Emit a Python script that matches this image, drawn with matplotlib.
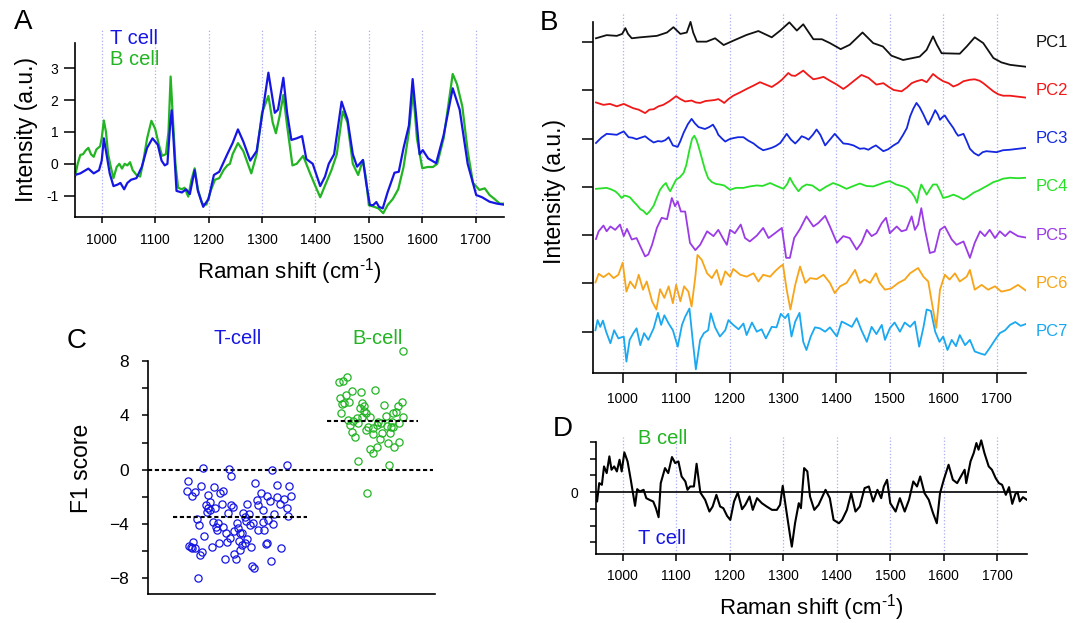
import matplotlib
matplotlib.use('Agg')
import matplotlib.pyplot as plt
from matplotlib.transforms import blended_transform_factory

plt.rcParams['font.family'] = ['Liberation Sans', 'DejaVu Sans']
plt.rcParams['mathtext.fontset'] = 'custom'
plt.rcParams['mathtext.rm'] = 'Liberation Sans'
plt.rcParams['mathtext.it'] = 'Liberation Sans:italic'
plt.rcParams['mathtext.bf'] = 'Liberation Sans:bold'

# ---------------- data ----------------
grid_x = [1000, 1100, 1200, 1300, 1400, 1500, 1600, 1700]

# Panel A: mean spectra
a_tcell = [(950,-0.35),(960,-0.3),(968,-0.22),(975,-0.15),(985,-0.3),(995,-0.2),(1000,0.1),(1004,0.8),(1010,0.2),
           (1015,-0.3),(1022,-0.7),(1030,-0.65),(1035,-0.6),(1042,-0.8),(1048,-0.6),(1055,-0.5),(1065,-0.45),
           (1075,-0.1),(1085,0.5),(1095,0.8),(1105,0.6),(1112,0.1),(1118,-0.05),(1123,0.0),(1128,1.2),(1131,1.68),
           (1135,0.6),(1140,-0.85),(1150,-0.9),(1158,-0.8),(1165,-0.95),(1174,-0.2),(1180,-0.85),(1190,-1.35),
           (1200,-1.1),(1210,-0.35),(1220,-0.25),(1235,0.3),(1245,0.65),(1255,1.08),(1265,0.7),(1278,0.1),
           (1290,0.4),(1300,1.5),(1312,2.86),(1324,1.6),(1330,1.7),(1340,2.7),(1347,1.6),(1355,0.75),(1365,0.8),
           (1375,0.87),(1383,0.15),(1395,0.0),(1409,-0.7),(1418,-0.4),(1425,0.0),(1435,0.3),(1449,1.95),(1460,1.4),
           (1470,0.3),(1478,-0.09),(1489,0.12),(1495,-0.6),(1502,-1.29),(1508,-1.3),(1514,-1.2),(1519,-1.35),
           (1526,-1.4),(1535,-0.9),(1548,-0.28),(1556,-0.25),(1565,0.5),(1575,1.2),(1582,2.66),(1588,1.6),
           (1595,0.3),(1601,0.43),(1611,0.17),(1626,0.02),(1640,0.9),(1657,2.37),(1670,1.7),(1685,0.0),
           (1701,-0.98),(1712,-1.05),(1726,-1.19),(1740,-1.25),(1752,-1.28)]
a_bcell = [(950,-0.4),(955,0.0),(960,0.28),(965,0.3),(970,0.42),(975,0.5),(980,0.3),(985,0.22),(990,0.45),
           (997,0.55),(1000,0.8),(1004,1.36),(1008,1.0),(1012,0.3),(1017,-0.1),(1022,-0.45),(1028,-0.1),
           (1033,0.0),(1038,-0.15),(1043,0.0),(1048,-0.05),(1053,0.05),(1058,-0.2),(1065,-0.35),(1072,-0.4),
           (1078,0.1),(1085,0.8),(1093,1.35),(1100,1.1),(1107,0.6),(1113,0.25),(1120,0.3),(1125,1.0),(1129,2.74),
           (1133,1.5),(1138,0.0),(1143,-0.75),(1150,-0.8),(1155,-0.75),(1162,-1.03),(1168,-0.5),(1174,-0.14),
           (1180,-0.8),(1188,-1.25),(1196,-1.28),(1205,-0.8),(1212,-0.5),(1220,-0.45),(1228,-0.2),(1235,-0.05),
           (1240,0.0),(1245,0.3),(1255,0.65),(1265,0.4),(1280,-0.3),(1290,0.3),(1300,1.6),(1312,2.13),(1320,1.3),
           (1326,0.96),(1333,1.5),(1340,2.16),(1347,1.2),(1357,-0.05),(1365,0.0),(1377,0.25),(1390,-0.3),
           (1400,-0.7),(1409,-1.05),(1420,-0.6),(1430,-0.2),(1440,0.3),(1451,1.64),(1460,1.3),(1470,0.0),
           (1480,-0.35),(1489,0.12),(1495,-0.5),(1500,-1.3),(1510,-1.35),(1518,-1.4),(1527,-1.55),(1535,-1.3),
           (1545,-1.1),(1555,-0.8),(1565,-0.1),(1575,1.0),(1583,2.27),(1590,0.8),(1600,-0.14),(1610,-0.1),
           (1620,-0.1),(1628,0.0),(1640,0.8),(1657,2.82),(1665,2.5),(1675,1.8),(1685,0.4),(1695,-0.6),
           (1707,-0.82),(1717,-0.77),(1726,-0.98),(1735,-1.1),(1745,-1.25),(1752,-1.25)]

# Panel B: principal component loadings (relative to each trace's own baseline)
pc1 = [(950,0.08),(970,0.145),(989,0.13),(999,0.17),(1005,0.29),(1010,0.17),(1017,0.08),(1033,0.10),(1064,0.13),
       (1083,0.20),(1095,0.31),(1108,0.17),(1120,0.20),(1127,0.42),(1132,0.2),(1139,0.01),(1157,0.01),(1173,0.08),
       (1189,-0.06),(1207,0.03),(1232,0.15),(1254,0.23),(1279,0.10),(1295,0.24),(1312,0.41),(1326,0.24),
       (1338,0.37),(1357,0.06),(1373,0.06),(1388,-0.02),(1408,-0.145),(1425,-0.055),(1449,0.20),(1469,-0.02),
       (1487,-0.09),(1503,-0.28),(1525,-0.37),(1556,-0.30),(1569,-0.16),(1575,-0.02),(1581,0.12),(1588,-0.05),
       (1597,-0.23),(1631,-0.24),(1644,-0.09),(1659,0.10),(1675,-0.02),(1694,-0.33),(1709,-0.42),(1725,-0.47),
       (1755,-0.51)]
pc2 = [(950,-0.25),(964,-0.30),(976,-0.28),(989,-0.33),(1002,-0.28),(1010,-0.32),(1020,-0.37),(1030,-0.40),
       (1042,-0.47),(1050,-0.40),(1058,-0.39),(1067,-0.33),(1076,-0.30),(1088,-0.22),(1100,-0.12),(1108,-0.18),
       (1117,-0.23),(1129,-0.21),(1137,-0.25),(1145,-0.26),(1155,-0.22),(1164,-0.21),(1172,-0.20),(1179,-0.18),
       (1185,-0.22),(1190,-0.26),(1198,-0.18),(1207,-0.11),(1220,-0.04),(1232,0.03),(1245,0.10),(1257,0.17),
       (1268,0.12),(1279,0.07),(1290,0.15),(1298,0.22),(1310,0.36),(1316,0.31),(1323,0.30),(1330,0.35),
       (1338,0.41),(1347,0.32),(1357,0.23),(1366,0.25),(1376,0.28),(1388,0.20),(1401,0.12),(1413,0.03),
       (1422,0.10),(1432,0.19),(1440,0.26),(1447,0.32),(1460,0.26),(1475,0.12),(1488,0.15),(1497,0.08),
       (1507,0.01),(1522,-0.02),(1532,0.06),(1541,0.15),(1550,0.19),(1560,0.22),(1569,0.17),(1581,0.34),
       (1590,0.26),(1600,0.19),(1610,0.15),(1619,0.08),(1628,0.12),(1638,0.19),(1650,0.22),(1659,0.23),
       (1668,0.20),(1675,0.15),(1685,0.06),(1694,-0.02),(1703,-0.08),(1712,-0.11),(1725,-0.11),(1740,-0.13),
       (1755,-0.15)]
pc3 = [(950,-0.09),(960,0.02),(970,0.10),(980,0.09),(989,0.08),(996,0.12),(1002,0.15),(1011,0.03),(1018,0.02),
       (1026,-0.01),(1034,0.02),(1042,0.05),(1050,-0.02),(1058,-0.08),(1066,-0.05),(1073,-0.06),(1080,-0.03),
       (1086,0.03),(1094,-0.14),(1103,-0.17),(1108,-0.05),(1114,0.12),(1122,0.30),(1129,0.41),(1135,0.32),
       (1142,0.24),(1148,0.22),(1154,0.20),(1162,0.24),(1169,0.29),(1175,0.18),(1179,0.08),(1186,0.0),
       (1192,-0.06),(1200,-0.01),(1207,0.01),(1216,0.03),(1226,0.03),(1235,-0.04),(1245,-0.10),(1254,-0.18),
       (1263,-0.24),(1270,-0.22),(1279,-0.19),(1287,-0.15),(1295,-0.09),(1302,0.02),(1307,0.10),(1315,-0.02),
       (1323,-0.10),(1330,-0.02),(1335,0.05),(1342,0.02),(1348,-0.02),(1356,0.08),(1363,0.19),(1370,0.08),
       (1379,-0.14),(1388,-0.02),(1397,0.10),(1405,0.0),(1413,-0.10),(1422,-0.11),(1432,-0.14),(1444,-0.21),
       (1452,-0.20),(1460,-0.23),(1467,-0.18),(1474,-0.14),(1481,-0.20),(1488,-0.26),(1497,-0.22),(1507,-0.14),
       (1516,-0.08),(1525,0.08),(1532,0.22),(1538,0.46),(1544,0.62),(1550,0.74),(1556,0.65),(1563,0.50),
       (1568,0.38),(1572,0.29),(1578,0.42),(1585,0.59),(1590,0.50),(1594,0.39),(1599,0.45),(1603,0.48),
       (1610,0.36),(1619,0.22),(1624,0.12),(1628,0.06),(1633,0.08),(1638,0.10),(1644,-0.05),(1650,-0.21),
       (1658,-0.30),(1666,-0.35),(1674,-0.28),(1681,-0.26),(1690,-0.27),(1700,-0.28),(1712,-0.24),(1725,-0.23),
       (1740,-0.21),(1755,-0.19)]
pc4 = [(950,-0.04),(960,-0.03),(970,-0.02),(978,-0.05),(986,-0.09),(992,-0.15),(998,-0.23),(1003,-0.18),
       (1008,-0.19),(1014,-0.22),(1020,-0.30),(1027,-0.38),(1033,-0.46),(1039,-0.50),(1045,-0.57),(1051,-0.50),
       (1058,-0.39),(1064,-0.22),(1070,-0.06),(1076,0.03),(1081,0.08),(1085,-0.02),(1089,-0.09),(1094,0.02),
       (1100,0.15),(1107,0.20),(1114,0.29),(1119,0.45),(1125,0.77),(1130,1.00),(1134,1.06),(1138,0.98),
       (1142,0.84),(1148,0.60),(1154,0.36),(1160,0.18),(1167,0.10),(1175,0.06),(1182,0.05),(1190,0.03),
       (1201,-0.06),(1212,-0.02),(1226,-0.02),(1238,0.01),(1251,0.03),(1262,0.02),(1276,0.08),(1288,0.02),
       (1301,-0.04),(1308,0.06),(1313,0.19),(1320,0.05),(1329,-0.09),(1336,0.0),(1344,0.05),(1355,0.03),
       (1369,-0.08),(1380,0.0),(1394,0.08),(1406,0.03),(1419,-0.04),(1432,0.02),(1444,0.07),(1456,0.02),
       (1469,0.01),(1482,0.06),(1492,0.10),(1500,0.12),(1512,0.05),(1525,0.01),(1533,-0.03),(1541,-0.12),
       (1547,-0.22),(1551,-0.33),(1555,-0.10),(1559,0.05),(1564,-0.05),(1569,-0.16),(1575,-0.05),(1581,0.05),
       (1588,0.05),(1594,-0.08),(1600,-0.23),(1610,-0.20),(1619,-0.16),(1628,-0.20),(1638,-0.26),(1647,-0.20),
       (1657,-0.12),(1667,-0.07),(1675,-0.02),(1685,0.04),(1694,0.10),(1703,0.13),(1712,0.17),(1725,0.19),
       (1740,0.18),(1755,0.19)]
pc5 = [(950,-0.08),(955,0.08),(964,0.20),(970,0.08),(977,0.18),(986,0.11),(995,0.22),(1002,-0.02),(1008,0.13),
       (1017,-0.09),(1026,-0.06),(1036,-0.30),(1042,-0.44),(1048,-0.40),(1055,-0.20),(1064,0.15),(1073,0.36),
       (1083,0.33),(1092,0.77),(1098,0.60),(1103,0.70),(1109,0.49),(1117,0.49),(1126,-0.16),(1136,-0.31),
       (1145,-0.20),(1158,0.08),(1170,-0.02),(1179,0.11),(1189,-0.09),(1195,-0.20),(1201,0.11),(1210,0.04),
       (1221,0.22),(1229,-0.06),(1238,-0.13),(1251,-0.01),(1263,0.15),(1273,-0.06),(1285,0.04),(1298,0.15),
       (1306,-0.47),(1313,-0.47),(1321,-0.06),(1332,0.13),(1344,0.39),(1357,0.18),(1366,0.25),(1379,0.40),
       (1388,0.18),(1401,-0.16),(1413,-0.02),(1425,-0.06),(1438,-0.30),(1447,-0.16),(1457,0.11),(1466,-0.02),
       (1475,0.04),(1485,0.25),(1493,0.36),(1500,0.04),(1513,0.18),(1522,0.08),(1531,0.11),(1541,0.39),
       (1547,0.11),(1553,0.22),(1559,0.56),(1566,0.11),(1575,-0.37),(1584,-0.34),(1594,0.11),(1603,0.18),
       (1616,-0.09),(1625,-0.20),(1638,-0.13),(1650,-0.47),(1659,-0.16),(1669,0.08),(1678,-0.02),(1687,0.11),
       (1697,-0.06),(1706,0.08),(1716,-0.02),(1725,0.08),(1740,-0.02),(1755,-0.05)]
pc6 = [(949,0.02),(955,0.20),(964,0.13),(974,0.21),(983,0.11),(992,0.18),(1000,0.43),(1007,-0.17),(1014,0.04),
       (1023,-0.10),(1030,0.18),(1038,-0.13),(1045,0.04),(1055,-0.37),(1063,-0.54),(1070,-0.12),(1078,-0.30),
       (1086,-0.06),(1094,-0.41),(1100,-0.03),(1108,-0.37),(1115,-0.06),(1123,-0.17),(1129,-0.48),(1136,0.14),
       (1140,0.59),(1148,0.49),(1158,0.21),(1167,0.11),(1176,0.28),(1184,-0.03),(1192,0.25),(1201,0.14),
       (1207,0.30),(1220,0.18),(1232,0.14),(1245,0.21),(1254,0.04),(1263,0.18),(1276,0.14),(1285,0.25),
       (1295,0.35),(1300,0.39),(1307,-0.13),(1314,-0.54),(1323,-0.03),(1332,0.35),(1342,0.01),(1351,0.11),
       (1363,0.09),(1376,0.18),(1388,0.01),(1397,-0.20),(1407,-0.06),(1419,0.01),(1435,0.28),(1444,0.01),
       (1453,0.08),(1463,0.01),(1474,0.21),(1481,0.01),(1491,-0.13),(1503,-0.10),(1516,0.01),(1528,0.08),
       (1538,0.21),(1553,0.32),(1563,0.14),(1572,0.04),(1581,-0.54),(1587,-0.92),(1594,-0.13),(1603,0.18),
       (1612,0.08),(1622,0.21),(1631,0.04),(1644,0.14),(1650,0.28),(1659,-0.13),(1672,-0.03),(1684,-0.13),
       (1697,-0.06),(1709,-0.17),(1725,-0.13),(1740,-0.03),(1755,-0.15)]
pc7 = [(949,0.03),(953,0.24),(958,0.10),(963,0.23),(969,0.00),(977,-0.24),(984,0.03),(992,-0.14),(1002,-0.10),
       (1007,-0.62),(1013,-0.17),(1020,-0.03),(1026,0.07),(1033,-0.28),(1040,-0.03),(1048,-0.17),(1058,0.07),
       (1066,0.39),(1072,0.14),(1078,0.34),(1086,0.17),(1094,0.03),(1103,-0.31),(1111,0.14),(1117,0.31),
       (1125,0.48),(1131,-0.17),(1137,-0.78),(1145,-0.17),(1152,-0.03),(1160,0.03),(1165,0.38),(1173,0.09),
       (1182,-0.10),(1192,0.03),(1198,0.24),(1207,0.14),(1217,0.05),(1226,0.17),(1232,-0.07),(1242,0.19),
       (1251,0.00),(1260,0.05),(1268,-0.14),(1279,0.10),(1288,0.09),(1296,0.37),(1304,0.28),(1310,0.37),
       (1316,-0.10),(1323,0.21),(1331,0.39),(1338,-0.21),(1344,-0.38),(1352,-0.10),(1360,0.09),(1369,0.07),
       (1379,0.00),(1388,0.09),(1401,-0.10),(1410,0.21),(1419,0.16),(1429,0.10),(1438,0.28),(1447,0.03),
       (1457,-0.21),(1466,0.10),(1475,-0.05),(1485,0.14),(1491,-0.17),(1500,0.07),(1509,0.19),(1519,0.00),
       (1528,0.19),(1538,0.10),(1547,0.21),(1555,-0.31),(1563,0.09),(1569,0.46),(1577,0.43),(1585,0.00),
       (1593,-0.21),(1600,-0.10),(1608,-0.38),(1616,-0.17),(1624,-0.30),(1631,-0.07),(1641,-0.28),(1650,-0.17),
       (1659,-0.41),(1669,-0.45),(1678,-0.48),(1687,-0.34),(1697,-0.17),(1706,-0.03),(1716,0.03),(1725,0.14),
       (1735,0.20),(1745,0.12),(1755,0.16)]
pc_traces = [pc1, pc2, pc3, pc4, pc5, pc6, pc7]
pc_names = ['PC1', 'PC2', 'PC3', 'PC4', 'PC5', 'PC6', 'PC7']
pc_colors = ['#111111', '#f01818', '#1428e0', '#28e028', '#9b3be6', '#f7a418', '#1aa8f0']

# Panel C: F1 scores (jittered column position, score)
t_pos = [1.94,2.84,2.88,4.31,4.83,1.39,1.36,1.55,1.66,1.87,2.31,2.09,2.53,2.61,3.74,4.48,4.90,4.97,3.93,4.14,
         3.79,3.85,4.25,4.48,4.60,4.74,4.83,4.88,4.40,4.02,3.46,3.53,3.30,3.38,2.95,2.88,2.80,2.57,2.34,2.17,
         2.11,2.03,2.05,2.17,1.70,1.78,2.28,2.46,2.38,2.63,2.40,1.97,2.72,3.00,3.09,3.15,3.29,3.56,3.42,3.67,
         3.85,4.02,4.04,4.19,4.37,1.45,1.50,1.59,1.64,1.54,1.82,1.89,1.74,2.24,2.49,2.77,2.69,3.00,3.07,3.16,
         3.27,3.22,3.38,3.46,3.59,3.63,3.68,4.10,4.16,4.28,4.62,3.20,2.85]
t_f1 = [0.10,0.05,-0.49,-0.03,0.32,-0.83,-1.55,-1.96,-1.62,-1.18,-1.30,-1.85,-1.74,-1.55,-0.96,-1.15,-1.18,-1.93,
        -1.74,-1.93,-2.23,-2.60,-2.31,-1.99,-2.55,-2.16,-2.80,-3.43,-3.26,-3.00,-2.52,-3.24,-3.21,-3.46,-2.75,-2.60,
        -3.21,-2.50,-2.85,-2.35,-2.80,-2.60,-3.09,-3.00,-3.63,-4.07,-3.87,-3.95,-4.19,-4.19,-4.44,-4.86,-4.66,-4.49,
        -3.95,-4.32,-4.64,-4.07,-3.75,-3.95,-4.44,-3.83,-4.44,-3.70,-4.02,-5.60,-5.72,-5.35,-5.75,-5.75,-6.28,-6.09,
        -7.95,-5.70,-5.38,-5.35,-6.58,-6.23,-6.60,-5.25,-5.55,-5.92,-5.43,-5.11,-5.67,-7.09,-7.21,-5.48,-5.40,-6.70,
        -5.75,-4.64,-5.05]
b_pos = [8.88,6.65,6.80,6.91,7.11,7.41,7.91,6.69,6.88,6.76,6.83,6.99,6.72,7.44,7.52,7.38,7.53,7.57,8.21,8.71,
         8.83,8.63,8.54,8.28,6.97,7.15,7.26,7.46,7.72,8.01,8.10,8.48,8.74,7.03,7.32,7.67,7.82,7.96,8.30,8.45,
         8.54,7.09,7.20,7.59,7.82,8.13,8.42,8.07,8.34,8.57,8.74,7.72,7.84,7.98,7.30,8.39,7.63,8.86]
b_f1 = [8.74,6.43,6.53,6.80,5.82,5.70,5.87,5.26,5.50,4.81,4.89,4.96,4.20,4.94,4.72,4.52,4.35,4.15,4.77,4.70,
        5.01,4.28,4.15,3.96,3.66,3.58,3.78,3.90,3.90,3.54,3.41,3.54,3.46,3.29,3.41,3.17,3.04,3.29,3.22,3.12,
        3.12,2.80,2.38,2.92,2.63,2.73,2.73,2.26,1.99,1.65,2.07,1.50,1.20,1.65,0.66,0.34,-1.74,3.90]
t_mean = -3.48
b_mean = 3.61

# Panel D: discriminant loading
d_trace = [(950,-0.16),(952,-0.56),(956,0.54),(961,0.44),(965,1.54),(970,1.14),(975,2.14),(979,1.34),(984,1.54),
           (989,1.24),(994,1.94),(998,1.24),(1003,2.38),(1009,1.84),(1015,0.74),(1023,-0.82),(1027,0.18),
           (1032,0.04),(1039,0.14),(1044,-0.36),(1050,-0.46),(1057,-0.56),(1062,-0.96),(1067,-1.50),(1071,0.54),
           (1079,1.44),(1085,1.14),(1092,2.10),(1098,1.74),(1104,1.84),(1110,0.94),(1117,0.64),(1121,0.14),
           (1126,0.34),(1133,0.34),(1138,1.70),(1145,-0.02),(1154,-0.46),(1162,-1.16),(1168,-0.86),(1175,-0.16),
           (1182,-0.86),(1188,-0.96),(1195,-1.42),(1201,-1.66),(1208,-0.56),(1215,-0.02),(1223,-1.02),(1229,-0.76),
           (1237,-0.26),(1243,-1.06),(1251,-0.36),(1260,-0.66),(1269,-0.86),(1279,-1.06),(1288,-1.06),(1294,-0.76),
           (1299,0.38),(1306,-1.16),(1313,-2.66),(1316,-3.26),(1322,-1.86),(1329,-0.66),(1333,-0.96),(1339,1.44),
           (1345,1.24),(1350,-0.26),(1358,-1.06),(1366,-0.76),(1379,0.14),(1387,-0.36),(1394,-1.66),(1404,-1.86),
           (1410,-1.66),(1419,-1.06),(1427,-0.06),(1435,-1.16),(1443,-0.86),(1452,0.24),(1460,0.34),(1468,-0.56),
           (1476,0.14),(1483,-0.36),(1488,0.34),(1494,0.74),(1500,-0.66),(1510,-1.16),(1518,-0.36),(1527,-1.16),
           (1535,-0.46),(1543,0.64),(1550,0.34),(1556,0.94),(1564,-0.06),(1572,-0.46),(1580,-1.26),(1587,-1.86),
           (1593,-0.06),(1600,0.74),(1609,1.64),(1617,0.74),(1625,0.54),(1632,0.94),(1639,1.34),(1642,0.54),
           (1650,1.84),(1656,2.34),(1661,2.94),(1665,2.54),(1670,3.10),(1676,2.34),(1684,1.54),(1690,1.34),
           (1697,0.84),(1703,0.54),(1709,0.44),(1716,-0.16),(1722,0.30),(1728,-0.70),(1734,-0.10),(1738,0.0),
           (1742,-0.55),(1748,-0.30),(1755,-0.45)]

# ---------------- style ----------------
W, H = 1083, 623
T_BLUE = '#1616e4'
B_GREEN = '#22b422'
GRID_C = '#a9aef0'
XLABEL = 'Raman shift (cm$^{\u2010\\mathregular{1}}$)'
fig = plt.figure(figsize=(W / 100, H / 100), dpi=100)


def box(l, t, r, b):
    return [l / W, 1 - b / H, (r - l) / W, (b - t) / H]


def ftext(x, y, s, **kw):
    fig.text(x / W, 1 - y / H, s, **kw)


def unzip(pairs):
    return [p[0] for p in pairs], [p[1] for p in pairs]


def base_spines(ax, lw=1.2):
    for s in ['top', 'right']:
        ax.spines[s].set_visible(False)
    for s in ['left', 'bottom']:
        ax.spines[s].set_linewidth(lw)


# ---------------- Panel A ----------------
axA = fig.add_axes(box(75, 30, 504, 216.7))
base_spines(axA)
axA.set_xlim(950, 1753)
axA.set_ylim(-1.66, 4.2)
axA.spines['left'].set_bounds(-1.66, 3.8)
for gx in grid_x:
    axA.axvline(gx, color=GRID_C, ls=':', lw=0.9, zorder=0)
xt, yt = unzip(a_tcell)
xb, yb = unzip(a_bcell)
axA.plot(xb, yb, color=B_GREEN, lw=1.6, zorder=2)
axA.plot(xt, yt, color=T_BLUE, lw=1.6, zorder=3)
axA.set_yticks([-1, 0, 1, 2, 3])
axA.set_yticklabels(['-1', '0', '1', '2', '3'])
axA.set_xticks(grid_x)
axA.set_xticklabels([str(g) for g in grid_x])
axA.tick_params(axis='y', length=8, width=1.1, pad=4, labelsize=10)
axA.tick_params(axis='x', length=4, width=1.1, pad=8, labelsize=10)

ftext(23, 21.7, 'A', fontsize=20, ha='center', va='center')
ftext(110, 38.2, 'T cell', fontsize=14.5, color=T_BLUE, ha='left', va='center')
ftext(110, 59.2, 'B cell', fontsize=14.5, color=B_GREEN, ha='left', va='center')
ftext(26, 129, 'Intensity (a.u.)', fontsize=16.5, rotation=90, ha='center', va='center')
ftext(289.5, 271.7, XLABEL, fontsize=16, ha='center', va='center')

# ---------------- Panel B ----------------
axB = fig.add_axes(box(593.3, 12.7, 1026, 372.7))
base_spines(axB)
axB.set_xlim(945, 1755)
axB.set_ylim(-0.85, 6.61)
axB.spines['left'].set_bounds(-0.85, 6.41)
for gx in grid_x:
    axB.axvline(gx, color=GRID_C, ls=':', lw=0.9, zorder=0)
n_pc = len(pc_traces)
trans = blended_transform_factory(axB.transAxes, axB.transData)
for i, (tr, name, col) in enumerate(zip(pc_traces, pc_names, pc_colors)):
    off = n_pc - 1 - i
    xs, ys = unzip(tr)
    axB.plot(xs, [v + off for v in ys], color=col, lw=1.3, zorder=2 + i)
    axB.text(1.0215, off, name, transform=trans, color=col, fontsize=12,
             ha='left', va='center', clip_on=False)
axB.set_yticks(list(range(n_pc)))
axB.set_yticklabels([])
axB.set_xticks(grid_x)
axB.set_xticklabels([str(g) for g in grid_x])
axB.tick_params(axis='y', length=8.2, width=1.1)
axB.tick_params(axis='x', length=7, width=1.1, pad=7, labelsize=10)

ftext(548.6, 22.5, 'B', fontsize=20, ha='center', va='center')
ftext(554, 192, 'Intensity (a.u.)', fontsize=16.5, rotation=90, ha='center', va='center')

# ---------------- Panel C ----------------
axC = fig.add_axes(box(147.6, 344.8, 435.5, 594))
base_spines(axC)
axC.set_xlim(0, 10)
axC.set_ylim(-9.16, 9.2)
axC.spines['left'].set_bounds(-9.16, 8)
axC.plot(t_pos, t_f1, ls='none', marker='o', ms=5.2, mfc='none', mec=T_BLUE, mew=0.9, zorder=3, clip_on=False)
axC.plot(b_pos, b_f1, ls='none', marker='o', ms=5.2, mfc='none', mec=B_GREEN, mew=0.9, zorder=3, clip_on=False)
dash = (0, (2, 1.3))
axC.hlines(0, 0, 9.9, colors='black', linestyles=dash, lw=1.5, zorder=2)
axC.hlines(t_mean, 0.87, 5.53, colors='black', linestyles=dash, lw=1.5, zorder=4)
axC.hlines(b_mean, 6.24, 9.39, colors='black', linestyles=dash, lw=1.5, zorder=4)
axC.set_yticks([-8, -4, 0, 4, 8])
axC.set_yticks([-6, -2, 2, 6], minor=True)
axC.set_xticks([])
axC.tick_params(axis='y', which='both', length=4.5, width=1.1, pad=9, labelsize=12.5)

ftext(77, 341, 'C', fontsize=20, ha='center', va='center')
ftext(238, 338.3, 'T-cell', fontsize=14.5, color=T_BLUE, ha='center', va='center')
ftext(377.6, 338.3, 'B-cell', fontsize=14.5, color=B_GREEN, ha='center', va='center')
ftext(81.7, 468, 'F1 score', fontsize=16.5, rotation=90, ha='center', va='center')

# ---------------- Panel D ----------------
axD = fig.add_axes(box(596, 437, 1026.7, 554))
base_spines(axD)
axD.set_xlim(950, 1755)
axD.set_ylim(-3.7, 3.3)
axD.spines['left'].set_bounds(-3.7, 3)
for gx in grid_x:
    axD.axvline(gx, color=GRID_C, ls=':', lw=0.9, zorder=0)
axD.axhline(0, color='black', lw=1.2, zorder=1)
xd, yd = unzip(d_trace)
axD.plot(xd, yd, color='black', lw=1.5, zorder=3)
axD.set_yticks([-3, -2, -1, 0, 1, 2, 3])
axD.set_yticklabels(['', '', '', '0', '', '', ''])
axD.set_xticks(grid_x)
axD.set_xticklabels([str(g) for g in grid_x])
axD.tick_params(axis='y', length=4.5, width=1.1, pad=8, labelsize=10)
axD.tick_params(axis='x', length=5, width=1.1, pad=6, labelsize=10)

ftext(562.5, 429, 'D', fontsize=20, ha='center', va='center')
ftext(637.7, 438.3, 'B cell', fontsize=14.5, color=B_GREEN, ha='left', va='center')
ftext(637.7, 538.3, 'T cell', fontsize=14.5, color=T_BLUE, ha='left', va='center')
ftext(811, 608, XLABEL, fontsize=16, ha='center', va='center')

fig.savefig('out.png', dpi=100)
